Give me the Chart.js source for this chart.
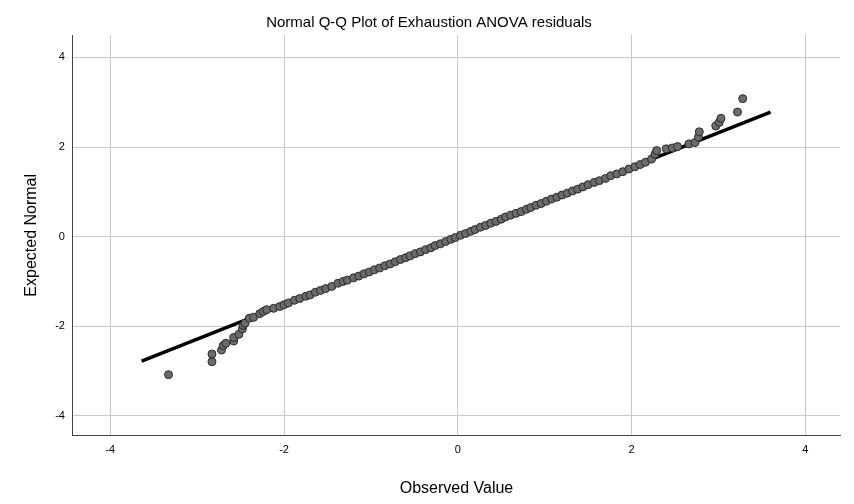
<!DOCTYPE html>
<html><head><meta charset="utf-8">
<script src="https://cdn.jsdelivr.net/npm/chart.js@4"></script>
<style>body{margin:0;background:#fff}#wrap{width:854px;height:504px}</style>
</head><body><div id="wrap"><canvas id="c"></canvas></div>
<script>
const observed = [-3.33,-2.83,-2.83,-2.72,-2.70,-2.67,-2.58,-2.58,-2.52,-2.48,-2.47,-2.45,-2.40,-2.35,-2.28,-2.24,-2.20,-2.12,-2.05,-2.00,-1.95,-1.88,-1.82,-1.75,-1.70,-1.64,-1.58,-1.52,-1.45,-1.38,-1.32,-1.27,-1.20,-1.14,-1.08,-1.02,-0.96,-0.90,-0.84,-0.78,-0.72,-0.66,-0.60,-0.55,-0.49,-0.43,-0.37,-0.31,-0.26,-0.20,-0.14,-0.08,-0.03,0.03,0.09,0.15,0.20,0.26,0.32,0.38,0.44,0.50,0.55,0.61,0.67,0.73,0.79,0.84,0.90,0.96,1.02,1.08,1.14,1.20,1.26,1.32,1.38,1.44,1.50,1.57,1.63,1.70,1.76,1.83,1.90,1.97,2.04,2.10,2.16,2.23,2.27,2.29,2.40,2.47,2.53,2.66,2.73,2.77,2.78,2.97,3.01,3.03,3.22,3.28];
const expected = [-3.08,-2.79,-2.62,-2.53,-2.43,-2.38,-2.33,-2.25,-2.18,-2.06,-1.98,-1.93,-1.82,-1.80,-1.72,-1.67,-1.63,-1.60,-1.56,-1.52,-1.48,-1.42,-1.38,-1.33,-1.30,-1.24,-1.20,-1.16,-1.11,-1.04,-1.00,-0.97,-0.92,-0.88,-0.83,-0.79,-0.74,-0.70,-0.65,-0.61,-0.56,-0.51,-0.47,-0.43,-0.38,-0.34,-0.29,-0.25,-0.20,-0.16,-0.11,-0.06,-0.02,0.03,0.07,0.12,0.16,0.21,0.25,0.30,0.34,0.39,0.44,0.48,0.52,0.56,0.61,0.65,0.70,0.74,0.79,0.84,0.88,0.93,0.97,1.02,1.06,1.11,1.16,1.21,1.25,1.30,1.36,1.40,1.45,1.51,1.56,1.61,1.66,1.73,1.84,1.92,1.96,1.98,2.01,2.07,2.10,2.22,2.34,2.47,2.55,2.64,2.78,3.08];
const lineX = [-3.64, 3.6];
const lineY = [-2.78, 2.78];
const tickVals = [-4, -2, 0, 2, 4];

const pts = observed.map((x, i) => ({x: x, y: expected[i]}));
const fixedTicks = axis => { axis.ticks = tickVals.map(v => ({value: v})); };
const fam = "Arial, Liberation Sans";

new Chart(document.getElementById("c"), {
  type: "scatter",
  data: {
    datasets: [
      {data: pts, backgroundColor: "#6b6b6b", borderColor: "#2a2a2a", borderWidth: 1, pointRadius: 4},
      {type: "line", data: lineX.map((x, i) => ({x: x, y: lineY[i]})), borderColor: "#000", borderWidth: 3.5, pointRadius: 0}
    ]
  },
  options: {
    responsive: true, maintainAspectRatio: false, animation: false,
    layout: {padding: {left: 18, right: 14, top: 0, bottom: 2}},
    plugins: {
      legend: {display: false}, tooltip: {enabled: false},
      title: {display: true, text: "Normal Q-Q Plot of Exhaustion ANOVA residuals", color: "#000",
        font: {family: fam, size: 15, weight: "normal"}, padding: {top: 14, bottom: 3}}
    },
    scales: {
      x: {min: -4.43, max: 4.4, afterBuildTicks: fixedTicks,
        grid: {color: "#c8c8c8", drawTicks: false}, border: {color: "#444"},
        ticks: {color: "#000", font: {family: fam, size: 11}, padding: 8},
        title: {display: true, text: "Observed Value", color: "#000", font: {family: fam, size: 16}, padding: {top: 14}}},
      y: {min: -4.44, max: 4.5, afterBuildTicks: fixedTicks,
        grid: {color: "#c8c8c8", drawTicks: false}, border: {color: "#444"},
        ticks: {color: "#000", font: {family: fam, size: 11}, padding: 8},
        title: {display: true, text: "Expected Normal", color: "#000", font: {family: fam, size: 16}, padding: {bottom: 6}}}
    }
  }
});
</script></body></html>
